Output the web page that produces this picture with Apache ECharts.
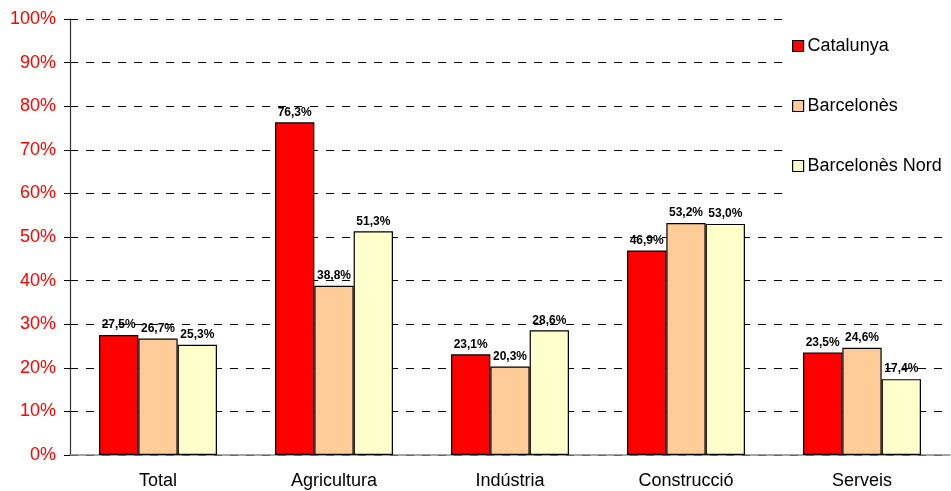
<!DOCTYPE html>
<html><head><meta charset="utf-8">
<script src="https://cdn.jsdelivr.net/npm/echarts@6/dist/echarts.min.js"></script>
<style>html,body{margin:0;padding:0;background:#fff}#c{width:951px;height:491px}</style>
</head><body><div id="c"></div>
<script>
const categories = ['Total','Agricultura','Indústria','Construcció','Serveis'];
const catalunya = [27.5,76.3,23.1,46.9,23.5];
const barcelones = [26.7,38.8,20.3,53.2,24.6];
const barcelonesNord = [25.3,51.3,28.6,53.0,17.4];
const seriesNames = ['Catalunya','Barcelonès','Barcelonès Nord'];
const colors = ['#ff0000','#ffcc99','#ffffcc'];

const chart = echarts.init(document.getElementById('c'));
const fmt = p => p.value.toFixed(1).replace('.', ',') + '%';
function mk(name, data, color){
  return {
    name, type:'bar', data,
    barGap:'0%', barCategoryGap:'33%',
    itemStyle:{color, borderColor:'#000', borderWidth:1.2},
    label:{show:true, position:'top', formatter:fmt, color:'#000',
      fontFamily:'Liberation Sans, Arial', fontWeight:'bold', fontSize:12, distance:4}
  };
}
chart.setOption({
  animation:false,
  textStyle:{fontFamily:'Liberation Sans, Arial'},
  grid:{left:70, right:1, top:19, bottom:36, containLabel:false},
  legend:{
    orient:'vertical', left:785, top:8,
    backgroundColor:'#fff', padding:[29,20,30,7],
    itemWidth:11, itemHeight:11, itemGap:42,
    icon:'rect',
    textStyle:{fontSize:18, color:'#000', fontFamily:'Liberation Sans, Arial', padding:[0,0,0,-1]},
    itemStyle:{borderColor:'#000', borderWidth:1.2},
    data:seriesNames
  },
  xAxis:{
    type:'category', data:categories,
    axisLine:{lineStyle:{color:'#888', width:1.5}},
    axisTick:{show:false},
    axisLabel:{color:'#000', fontSize:18, margin:17, fontFamily:'Liberation Sans, Arial'}
  },
  yAxis:{
    type:'value', min:0, max:100, interval:10,
    axisLine:{show:true, lineStyle:{color:'#333', width:1.2}},
    axisTick:{show:true, inside:false, length:6, lineStyle:{color:'#000'}},
    axisLabel:{color:'#ff0000', fontSize:18, margin:14, formatter:'{value}%', fontFamily:'Liberation Sans, Arial'},
    splitLine:{show:true, lineStyle:{color:'#000', type:[8,8], width:1}}
  },
  series:[
    mk(seriesNames[0], catalunya, colors[0]),
    mk(seriesNames[1], barcelones, colors[1]),
    mk(seriesNames[2], barcelonesNord, colors[2])
  ]
});
</script></body></html>
